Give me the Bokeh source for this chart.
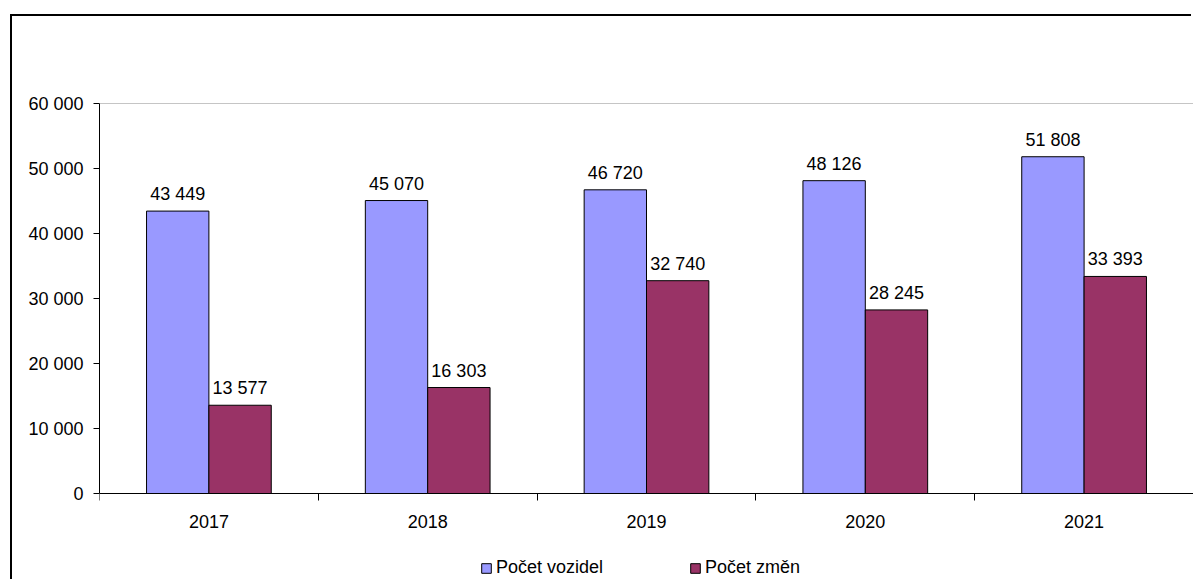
from bokeh.plotting import figure
from bokeh.models import (Range1d, FixedTicker, ColumnDataSource, LabelSet, Legend,
                          LegendItem, Span)
from bokeh.core.properties import value
from bokeh.embed import file_html
from bokeh.resources import INLINE

years = ["2017", "2018", "2019", "2020", "2021"]
pocet_vozidel = [43449, 45070, 46720, 48126, 51808]
pocet_zmen = [13577, 16303, 32740, 28245, 33393]
y_ticks = [0, 10000, 20000, 30000, 40000, 50000, 60000]

FONT = "Liberation Sans"
BLUE = "#9999FF"
RED = "#993366"
BW = 0.285
Y_MAX = 60000
# frame extends below the zero line so the legend can sit inside it
Y_MIN = -88 * Y_MAX / 390

def fmt(v):
    return f"{v:,}".replace(",", " ")

centers = [i + 0.5 for i in range(len(years))]
src_a = ColumnDataSource(dict(x=[c - BW / 2 for c in centers], y=pocet_vozidel,
                              lab=[fmt(v) for v in pocet_vozidel]))
src_b = ColumnDataSource(dict(x=[c + BW / 2 for c in centers], y=pocet_zmen,
                              lab=[fmt(v) for v in pocet_zmen]))

p = figure(frame_width=1094, frame_height=478, output_backend="svg", toolbar_location=None,
           x_range=Range1d(0, len(years)), y_range=Range1d(Y_MIN, Y_MAX),
           min_border_left=87, min_border_top=87, min_border_right=0, min_border_bottom=0)
p.styles = {"margin-left": "12px", "margin-top": "16px",
            "box-shadow": "-2px -2px 0px 0px #000"}
p.outline_line_color = None
p.xgrid.visible = False
p.ygrid.visible = False
p.background_fill_color = "white"
p.border_fill_color = "white"

ra = p.vbar(x="x", top="y", width=BW, source=src_a, fill_color=BLUE, line_color="#000", line_width=1)
rb = p.vbar(x="x", top="y", width=BW, source=src_b, fill_color=RED, line_color="#000", line_width=1)

p.add_layout(Span(location=Y_MAX, dimension="width", line_color="#8c8c8c", line_width=1))

for src in (src_a, src_b):
    p.add_layout(LabelSet(x="x", y="y", text="lab", source=src, text_align="center",
                          text_baseline="alphabetic", y_offset=11,
                          text_font=value(FONT), text_font_size="18px", text_color="#000"))

# y axis
p.yaxis.ticker = FixedTicker(ticks=y_ticks)
p.yaxis.bounds = (0, Y_MAX)
p.yaxis.major_label_overrides = {t: fmt(t) for t in y_ticks}
p.yaxis.major_tick_out = 6
p.yaxis.major_tick_in = 0
p.yaxis.minor_tick_out = 0
p.yaxis.minor_tick_in = 0
p.yaxis.major_label_standoff = 10
p.yaxis.axis_line_color = "#000"
p.yaxis.major_tick_line_color = "#000"
p.yaxis.major_label_text_font = FONT
p.yaxis.major_label_text_font_size = "18px"
p.yaxis.major_label_text_color = "#000"

# x axis, drawn on the zero line
p.xaxis.fixed_location = 0
p.xaxis.ticker = FixedTicker(ticks=centers, minor_ticks=list(range(len(years) + 1)))
p.xaxis.major_label_overrides = {c: y for c, y in zip(centers, years)}
p.xaxis.major_tick_out = 0
p.xaxis.major_tick_in = 0
p.xaxis.minor_tick_out = 7
p.xaxis.minor_tick_in = 0
p.xaxis.minor_tick_line_color = "#000"
p.xaxis.major_label_standoff = 14
p.xaxis.axis_line_color = "#000"
p.xaxis.major_label_text_font = FONT
p.xaxis.major_label_text_font_size = "18px"
p.xaxis.major_label_text_color = "#000"

legend = Legend(items=[LegendItem(label="Počet vozidel", renderers=[ra]),
                       LegendItem(label="Počet změn", renderers=[rb])],
                orientation="horizontal", location=(381, 3),
                glyph_width=12, glyph_height=12, label_standoff=4, spacing=86,
                label_text_font=FONT, label_text_font_size="18px", label_text_color="#000",
                border_line_color=None, background_fill_alpha=0, padding=0, margin=0)
p.add_layout(legend, "center")

open("out.html", "w").write(file_html(p, INLINE))
